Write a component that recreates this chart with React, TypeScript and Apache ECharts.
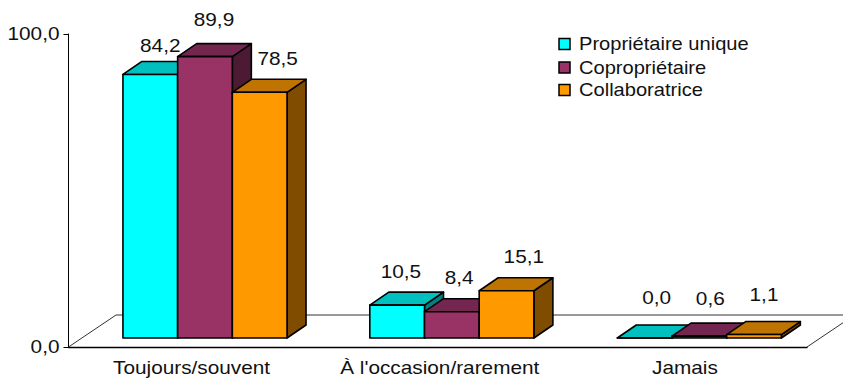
import React, { useEffect, useRef } from "react";
import * as echarts from "echarts";

const categories = ["Toujours/souvent", "À l'occasion/rarement", "Jamais"];
const seriesNames = ["Propriétaire unique", "Copropriétaire", "Collaboratrice"];
const proprietaireUnique = [84.2, 10.5, 0.0];
const coproprietaire = [89.9, 8.4, 0.6];
const collaboratrice = [78.5, 15.1, 1.1];
const valueTicks = [0, 100];

const FONT = "'Liberation Sans', Arial, sans-serif";
const FONT_SIZE = 18;
const TEXT_STRETCH = 1.155;
const LEGEND_STRETCH = 1.116;
const INK = "#111";
const FRONT = ["#00FFFF", "#993366", "#FF9900"];
const TOP = ["#00BFBF", "#732650", "#BF7300"];
const SIDE = ["#008080", "#4D1A33", "#804D00"];

// Oblique projection of the chart box and of each bar's depth.
const FLOOR_DX = 47.5;
const FLOOR_DY = 32;
const PLANE_DX = 13.4;
const PLANE_DY = 9;
const BAR_DX = 19;
const BAR_DY = 13;
const BAR_SHARE = 0.2222;

// Slight drift of each bar cluster within its band, and of its axis label.
const clusterDrift = [0, 0.7, 2];
const categoryLabelDrift = [0, 2, 1];

// Hand-placed value labels: shift from the top of the bar's front face.
const labelShift = [
  [[10, -28.5], [9, -37], [18, -34]],
  [[4.5, -34], [8, -34], [18, -34]],
  [[14, -40], [13, -38], [12, -40]],
];

const edge = { stroke: "#000", lineWidth: 1.6, lineJoin: "round" as const };

// The typeface runs wide here, so every text is stretched horizontally.
function wideText(
  text: string,
  x: number,
  y: number,
  align: "left" | "center" | "right",
  stretch = TEXT_STRETCH,
) {
  return {
    type: "text",
    x,
    y,
    scaleX: stretch,
    style: {
      text,
      x: 0,
      y: 0,
      fill: INK,
      fontFamily: FONT,
      fontSize: FONT_SIZE,
      textAlign: align,
      textVerticalAlign: "middle",
    },
  };
}

const decimal = (v: number) => v.toFixed(1).replace(".", ",");

function renderBar(params: any, api: any) {
  const s = params.seriesIndex - 1;
  const cat = api.value(0);
  const val = api.value(1);
  const [cx, yTop] = api.coord([cat, val]);
  const [, yBase] = api.coord([cat, 0]);
  const w = api.size([1, 0])[0] * BAR_SHARE;
  const plain = cx + PLANE_DX + (s - 1) * w;
  const x0 = plain - w / 2 + clusterDrift[cat];
  const x1 = x0 + w;
  const t = yTop - PLANE_DY;
  const b = yBase - PLANE_DY;
  const [sx, sy] = labelShift[cat][s];
  return {
    type: "group",
    children: [
      {
        type: "polygon",
        shape: { points: [[x1, t], [x1 + BAR_DX, t - BAR_DY], [x1 + BAR_DX, b - BAR_DY], [x1, b]] },
        style: { fill: SIDE[s], ...edge },
      },
      {
        type: "polygon",
        shape: { points: [[x0, t], [x0 + BAR_DX, t - BAR_DY], [x1 + BAR_DX, t - BAR_DY], [x1, t]] },
        style: { fill: TOP[s], ...edge },
      },
      {
        type: "rect",
        shape: { x: x0, y: t, width: w, height: b - t },
        style: { fill: FRONT[s], ...edge },
      },
      wideText(decimal(val), plain + sx, t + sy, "center"),
    ],
  };
}

function renderFloor(params: any) {
  const { x, y, width, height } = params.coordSys;
  const base = y + height;
  return {
    type: "polyline",
    shape: {
      points: [
        [x, base],
        [x + FLOOR_DX, base - FLOOR_DY],
        [x + width + FLOOR_DX, base - FLOOR_DY],
        [x + width, base],
      ],
    },
    style: { stroke: "#333", lineWidth: 1, fill: "none" },
  };
}

function renderCategoryLabel(_: any, api: any) {
  const cat = api.value(0);
  const [cx, y] = api.coord([cat, 0]);
  return wideText(categories[cat], cx + categoryLabelDrift[cat], y + 21, "center");
}

function renderValueLabel(params: any, api: any) {
  const [, y] = api.coord([0, api.value(1)]);
  return wideText(decimal(api.value(1)), params.coordSys.x - 9, y, "right");
}

const rows = [proprietaireUnique, coproprietaire, collaboratrice];
const legendRows = [44, 67.5, 90];

export default function App() {
  const ref = useRef<HTMLDivElement>(null);
  useEffect(() => {
    document.body.style.margin = "0";
    const chart = echarts.init(ref.current!, null, { renderer: "svg" });
    chart.setOption({
      animation: false,
      backgroundColor: "#fff",
      grid: { left: 68.5, right: 36, top: 34, bottom: 32 },
      xAxis: {
        type: "category",
        data: categories,
        boundaryGap: true,
        axisLine: { lineStyle: { color: "#000", width: 1.4 } },
        axisTick: { length: 5, alignWithLabel: false, lineStyle: { color: "#000" } },
        axisLabel: { show: false },
      },
      yAxis: {
        type: "value",
        min: valueTicks[0],
        max: valueTicks[1],
        interval: valueTicks[1],
        splitLine: { show: false },
        axisLine: { show: true, lineStyle: { color: "#000", width: 1 } },
        axisTick: { show: true, length: 5, lineStyle: { color: "#000" } },
        axisLabel: { show: false },
      },
      graphic: seriesNames.flatMap((name, i) => [
        {
          type: "rect",
          shape: { x: 559, y: legendRows[i] - 5.5, width: 11, height: 11 },
          style: { fill: FRONT[i], stroke: "#000", lineWidth: 1.5 },
        },
        wideText(name, 579, legendRows[i], "left", LEGEND_STRETCH),
      ]),
      series: [
        { type: "custom", name: "floor", renderItem: renderFloor, data: [[0, 0]], silent: true },
        ...seriesNames.map((name, i) => ({
          type: "custom",
          name,
          renderItem: renderBar,
          encode: { x: 0, y: 1 },
          data: rows[i].map((v, c) => [c, v]),
        })),
        {
          type: "custom",
          name: "categories",
          renderItem: renderCategoryLabel,
          silent: true,
          data: categories.map((_, c) => [c, 0]),
        },
        {
          type: "custom",
          name: "values",
          renderItem: renderValueLabel,
          silent: true,
          data: valueTicks.map((v) => [0, v]),
        },
      ],
    });
    return () => chart.dispose();
  }, []);
  return <div ref={ref} style={{ width: 843, height: 379 }} />;
}
